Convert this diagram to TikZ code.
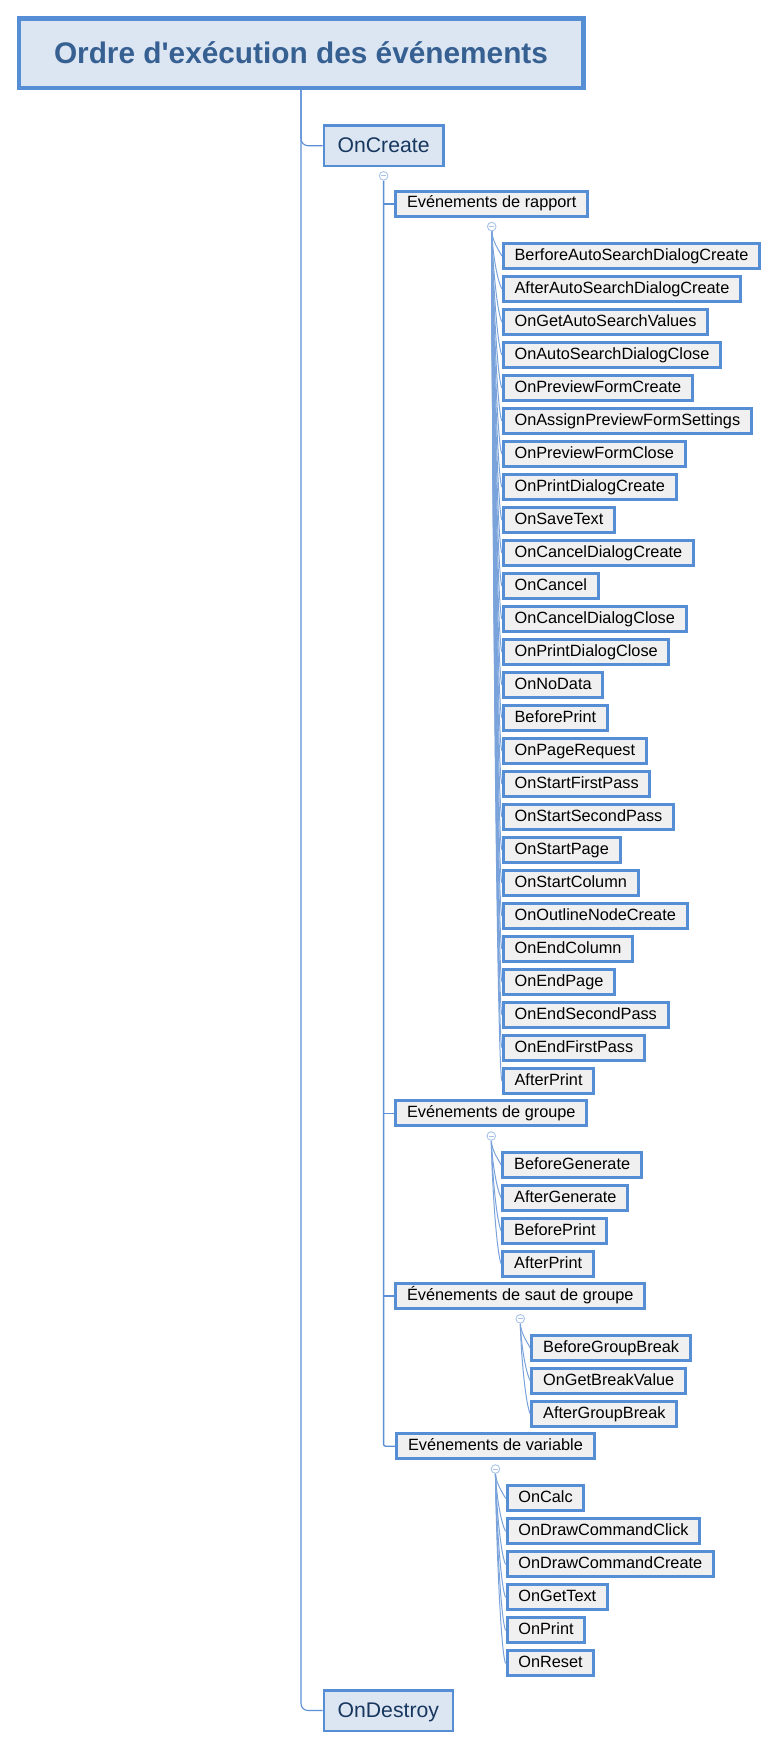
\documentclass[tikz,border=0pt]{standalone}
\usepackage{fontspec}
\setmainfont{Liberation Sans}[Ligatures=TeXOff]
\usetikzlibrary{calc}
\definecolor{boxblue}{HTML}{558ED5}
\definecolor{lightfill}{HTML}{DCE6F2}
\definecolor{grayfill}{HTML}{F0F0F0}
\definecolor{titletext}{HTML}{376092}
\definecolor{navytext}{HTML}{17375E}
\definecolor{linecol}{HTML}{5B8FD6}
\definecolor{leafline}{HTML}{7AA3DC}
\definecolor{togglecol}{HTML}{A8C2E8}
\pgfdeclarelayer{paper}
\pgfdeclarelayer{wires}
\pgfsetlayers{paper,wires,main}
\tikzset{
 titlebox/.style={draw=boxblue, fill=lightfill, line width=4.5pt, minimum width=564.5pt, minimum height=69.5pt, inner sep=0pt, text height=21.5pt, text depth=0pt, text=titletext, font=\fontsize{29.8}{34}\selectfont\bfseries},
 evtbox/.style={draw=boxblue, fill=lightfill, line width=2.5pt, inner xsep=13.8pt, inner ysep=0pt, minimum height=40.5pt, text height=15.3pt, text depth=0.9pt, text=navytext, font=\fontsize{21.2}{25}\selectfont, anchor=west},
 leafbox/.style={draw=boxblue, fill=grayfill, line width=3pt, inner xsep=11.2pt, inner ysep=0pt, minimum height=25pt, text height=11.7pt, text depth=3.4pt, text=black, font=\fontsize{16.3}{19}\selectfont, anchor=west},
 mainline/.style={draw=linecol, line width=1.1pt},
 subline/.style={draw=linecol, line width=1.4pt},
 leafconn/.style={draw=leafline, line width=1pt},
 togglenode/.style={circle, draw=togglecol, fill=white, line width=0.9pt, minimum size=8.6pt, inner sep=0pt},
}
\newcommand\leafgroup[3]{%
  \node[togglenode] (#2c) at ($(#1.south)+(0,8.8)$) {};
  \draw[togglecol, line width=0.9pt] ($(#2c.center)+(-2.3,0)$) -- ($(#2c.center)+(2.3,0)$);
  \foreach \lbl [count=\i from 0] in {#3} {
    \node[leafbox] (#2\i) at ($(#2c.center)+(10.2,{29.4+33*\i})$) {\lbl};
    \begin{pgfonlayer}{wires}
    \draw[leafconn] (#2c.south) .. controls +(1,{0.4*(25+33*\i)}) and +(-4.5,-8) .. (#2\i.west);
    \end{pgfonlayer}
  }%
}
\begin{document}
\begin{tikzpicture}[x=1pt,y=-1pt]
\begin{pgfonlayer}{paper}
\fill[white] (0,0) rectangle (778,1749);
\end{pgfonlayer}
\useasboundingbox (0,0) rectangle (778,1749);

\node[titlebox] (title) at (301,53) {Ordre d'exécution des événements};
\node[evtbox] (oncreate) at (322.6,145.7) {OnCreate};
\node[evtbox] (ondestroy) at (322.6,1710.5) {OnDestroy};

\node[leafbox] (rapport) at (394.3,203.8) {Evénements de rapport};
\node[leafbox] (groupe) at (394.3,1113.2) {Evénements de groupe};
\node[leafbox] (saut) at (394.3,1296) {Événements de saut de groupe};
\node[leafbox] (variable) at (395.3,1446.2) {Evénements de variable};

\begin{pgfonlayer}{wires}
\draw[mainline, rounded corners=7] (title.south) |- (oncreate.west);
\draw[mainline, rounded corners=7] (title.south) |- (ondestroy.west);
\end{pgfonlayer}

\node[togglenode] (cc) at ($(oncreate.south)+(0,8.65)$) {};
\draw[togglecol, line width=0.9pt] ($(cc.center)+(-2.3,0)$) -- ($(cc.center)+(2.3,0)$);
\begin{pgfonlayer}{wires}
\draw[subline, rounded corners=2] (cc.south) |- (variable.west);
\draw[subline] (cc.south |- rapport.west) -- (rapport.west);
\draw[subline] (cc.south |- groupe.west) -- (groupe.west);
\draw[subline] (cc.south |- saut.west) -- (saut.west);
\end{pgfonlayer}

\leafgroup{rapport}{r}{BerforeAutoSearchDialogCreate,AfterAutoSearchDialogCreate,OnGetAutoSearchValues,OnAutoSearchDialogClose,OnPreviewFormCreate,OnAssignPreviewFormSettings,OnPreviewFormClose,OnPrintDialogCreate,OnSaveText,OnCancelDialogCreate,OnCancel,OnCancelDialogClose,OnPrintDialogClose,OnNoData,BeforePrint,OnPageRequest,OnStartFirstPass,OnStartSecondPass,OnStartPage,OnStartColumn,OnOutlineNodeCreate,OnEndColumn,OnEndPage,OnEndSecondPass,OnEndFirstPass,AfterPrint}
\leafgroup{groupe}{g}{BeforeGenerate,AfterGenerate,BeforePrint,AfterPrint}
\leafgroup{saut}{s}{BeforeGroupBreak,OnGetBreakValue,AfterGroupBreak}
\leafgroup{variable}{v}{OnCalc,OnDrawCommandClick,OnDrawCommandCreate,OnGetText,OnPrint,OnReset}
\end{tikzpicture}
\end{document}
